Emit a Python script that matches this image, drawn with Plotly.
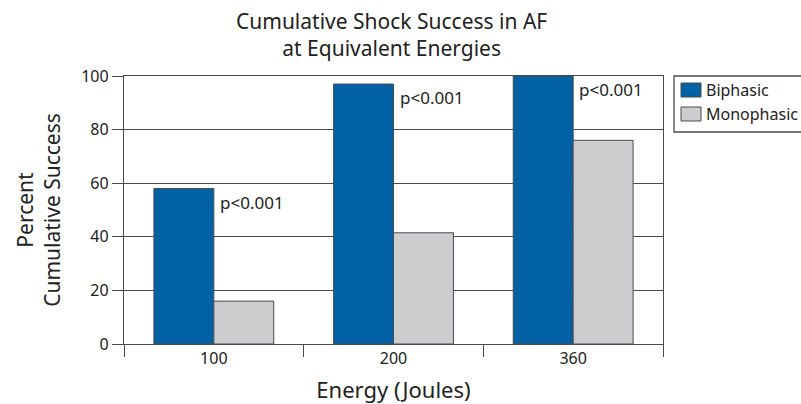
import plotly.graph_objects as go

categories = ["100", "200", "360"]
biphasic = [58, 97, 100]
monophasic = [16, 41.5, 76]
p_labels = ["p<0.001", "p<0.001", "p<0.001"]
y_ticks = [0, 20, 40, 60, 80, 100]
series_names = ["Biphasic", "Monophasic"]
series_colors = ["#0062a5", "#cdcdcf"]

FONT = "Noto Sans"
LINE = "#4a4a4a"
TXT = "#222"

# plot area in pixels (for paper-coordinate conversions of decorations)
L, R, T, B = 124, 663, 76, 344
def px(x): return (x - L) / (R - L)
def py(y): return (B - y) / (B - T)

fig = go.Figure()
for name, vals, col in zip(series_names, [biphasic, monophasic], series_colors):
    fig.add_trace(go.Bar(x=categories, y=vals, name=name, showlegend=False,
                         marker=dict(color=col, line=dict(color=LINE, width=1))))

for i, (v, t) in enumerate(zip(biphasic, p_labels)):
    fig.add_annotation(x=i, y=v, xref="x", yref="y", text=t, showarrow=False,
                       xanchor="left", yanchor="top", xshift=4, yshift=0,
                       font=dict(family=FONT, size=17, color=TXT))

# title
fig.add_annotation(x=px(391), y=py(35), xref="paper", yref="paper",
                   showarrow=False, xanchor="center", yanchor="middle",
                   text="Cumulative Shock Success in AF<br>at Equivalent Energies",
                   font=dict(family=FONT, size=21, color=TXT))

# manual legend
fig.add_shape(type="rect", xref="paper", yref="paper", x0=px(674), x1=px(815),
              y0=py(132), y1=py(76), line=dict(color=LINE, width=1.3), fillcolor="white")
for k, (name, col) in enumerate(zip(series_names, series_colors)):
    yc = 90 + 24 * k
    fig.add_shape(type="rect", xref="paper", yref="paper", x0=px(681), x1=px(701),
                  y0=py(yc + 7), y1=py(yc - 7), line=dict(color=LINE, width=1), fillcolor=col)
    fig.add_annotation(x=px(704), y=py(yc), xref="paper", yref="paper", text=name,
                       showarrow=False, xanchor="left", yanchor="middle",
                       font=dict(family=FONT, size=16, color=TXT))

fig.update_layout(
    width=801, height=404,
    margin=dict(l=L, r=801 - R, t=T, b=404 - B, autoexpand=False),
    paper_bgcolor="white", plot_bgcolor="white",
    barmode="group", bargap=0.333, bargroupgap=0,
    font=dict(family=FONT, size=16, color=TXT),
    showlegend=False,
    xaxis=dict(type="category", range=[-0.5, 2.5], showline=True, linecolor=LINE,
               linewidth=1.3, mirror=True, ticks="outside", tickson="boundaries",
               ticklen=12, tickcolor=LINE, tickwidth=1.3,
               title=dict(text="Energy (Joules)", font=dict(family=FONT, size=22), standoff=16),
               tickfont=dict(size=16)),
    yaxis=dict(range=[0, 100], tickvals=y_ticks, showline=True, linecolor=LINE,
               linewidth=1.3, mirror=True, showgrid=True, gridcolor=LINE, gridwidth=1.3,
               ticks="outside", ticklen=11, tickcolor=LINE, tickwidth=1.3,
               zeroline=False,
               title=dict(text="Percent<br>Cumulative Success", font=dict(family=FONT, size=21),
                          standoff=14),
               tickfont=dict(size=16)),
)

fig.write_html("out.html", config=dict(displayModeBar=False),
               post_script="document.body.style.margin='0';document.body.style.overflow='hidden';")
